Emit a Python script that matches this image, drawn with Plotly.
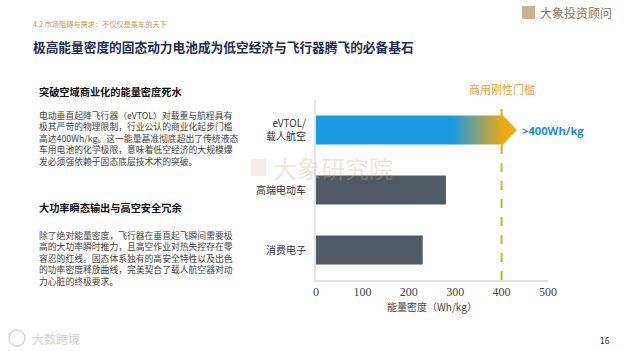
import plotly.graph_objects as go

# ---------------- data ----------------
categories = ["eVTOL/<br>载人航空", "高端电动车", "消费电子"]
values = [400, 280, 230]
positions = [2, 1, 0]
threshold = 400
threshold_label = "商用刚性门槛"
highlight_label = ">400Wh/kg"
x_ticks = [0, 100, 200, 300, 400, 500]
x_title = "能量密度（Wh/kg）"

subtitle = "4.2 市场阻碍与需求：不仅仅是乘车的天下"
title = "极高能量密度的固态动力电池成为低空经济与飞行器腾飞的必备基石"
head1 = "突破空域商业化的能量密度死水"
para1 = [
    "电动垂直起降飞行器（eVTOL）对载重与航程具有",
    "极其严苛的物理限制，行业公认的商业化起步门槛",
    "高达400Wh/kg。这一能量基准彻底超出了传统液态",
    "车用电池的化学极限，意味着低空经济的大规模爆",
    "发必须强依赖于固态底层技术术的突破。",
]
head2 = "大功率瞬态输出与高空安全冗余"
para2 = [
    "除了绝对能量密度，飞行器在垂直起飞瞬间需要极",
    "高的大功率瞬时推力，且高空作业对热失控存在零",
    "容忍的红线。固态体系独有的高安全特性以及出色",
    "的功率密度释放曲线，完美契合了载人航空器对动",
    "力心脏的终极要求。",
]

# ---------------- layout geometry ----------------
W, H = 624, 351
L, R, T, B = 316, 548, 100, 280

def px(x):
    return (x - L) / (R - L)

def py(y):
    return (B - y) / (B - T)

SANS = "Noto Sans CJK SC"
SERIF = "Liberation Serif"

fig = go.Figure()

# highlighted (gradient arrow) bar for the first category
hv = values[0]
hy = positions[0]
hw = 0.24
tip = 33
ax = [0, hv, hv, hv + tip, hv, hv, 0, 0]
ay = [hy - hw, hy - hw, hy - hw - 0.025, hy, hy + hw + 0.025, hy + hw, hy + hw, hy - hw]
fig.add_trace(go.Scatter(
    x=ax, y=ay, mode="lines", fill="toself",
    line=dict(width=0),
    fillgradient=dict(type="horizontal",
                      colorscale=[[0, "#1a9be0"], [0.68, "#1a9be0"], [0.93, "#eda915"], [1, "#f0aa12"]]),
    hoverinfo="skip", showlegend=False,
))

# other bars
fig.add_trace(go.Bar(
    x=values[1:], y=positions[1:], orientation="h", width=0.48,
    marker=dict(color="#505a65", line=dict(width=0)),
    showlegend=False, hoverinfo="skip",
))

# threshold dashed line
fig.add_shape(type="line", xref="x", yref="paper", x0=threshold, x1=threshold, y0=0, y1=0.99,
              line=dict(color="#e2a82c", width=2, dash="dash"), layer="above")

ann = []
def text(x, y, s, size, color, family=SANS, xanchor="left", yanchor="middle", bold=False, opacity=1):
    ann.append(dict(xref="paper", yref="paper", x=px(x), y=py(y), text=(f"<b>{s}</b>" if bold else s),
                    showarrow=False, xanchor=xanchor, yanchor=yanchor, opacity=opacity, align="left",
                    font=dict(size=size, color=color, family=family)))

# chart labels
ann.append(dict(xref="x", yref="paper", x=threshold, y=py(89), text=threshold_label, showarrow=False,
                xanchor="center", yanchor="middle", font=dict(size=11, color="#e3a12f", family=SANS)))
ann.append(dict(xref="x", yref="y", x=hv + tip + 6, y=hy, text=f"<b>{highlight_label}</b>", showarrow=False,
                xanchor="left", yanchor="middle", font=dict(size=11.2, color="#1e8fd6", family="Open Sans")))

# watermark
text(271, 167, "大象研究院", 24, "rgba(190,170,140,0.30)")

# header texts
text(31, 24, subtitle, 7.2, "#c29b5c")
text(31, 47, title, 12.7, "#1f2d4f", bold=True)
text(538, 13, "大象投资顾问", 12, "#8a7a5e")
text(37, 91, head1, 10.2, "#111111", bold=True)
text(37, 138.7, "<br>".join(para1), 8.8, "#444444")
text(37, 207, head2, 10.2, "#111111", bold=True)
text(37, 258, "<br>".join(para2), 8.8, "#444444")

# footer
text(30, 338, "大数跨境", 12, "#d4d4d4")
text(612, 340, "16", 8.5, "#333333", xanchor="right")

# logo icon squares
fig.add_shape(type="rect", xref="paper", yref="paper", x0=px(522), x1=px(535), y0=py(19), y1=py(6),
              fillcolor="#c9b38c", line=dict(width=0), layer="above")
fig.add_shape(type="rect", xref="paper", yref="paper", x0=px(251), x1=px(266), y0=py(176), y1=py(159),
              fillcolor="rgba(200,180,150,0.22)", line=dict(width=0), layer="above")
fig.add_shape(type="circle", xref="paper", yref="paper", x0=px(9), x1=px(25), y0=py(346), y1=py(330),
              fillcolor="rgba(0,0,0,0)", line=dict(width=1.5, color="#d8d8d8"))

fig.update_layout(
    width=W, height=H,
    margin=dict(l=L, r=W - R, t=T, b=H - B),
    paper_bgcolor="white", plot_bgcolor="white",
    annotations=ann,
    xaxis=dict(range=[0, 500], tickvals=x_ticks, showgrid=False, zeroline=False,
               showline=True, linecolor="#e4e4e4", linewidth=2, ticks="",
               tickfont=dict(family=SERIF, size=12, color="#444444"),
               title=dict(text=x_title, font=dict(family=SANS, size=10, color="#444444"), standoff=4)),
    yaxis=dict(range=[-0.5, 2.5], tickvals=positions, ticktext=categories, showgrid=False, zeroline=False,
               showline=True, linecolor="#e4e4e4", linewidth=2, ticks="",
               tickfont=dict(family=SANS, size=10, color="#333333"), ticklabelstandoff=6),
    font=dict(family=SANS),
)

fig.write_html("out.html")
